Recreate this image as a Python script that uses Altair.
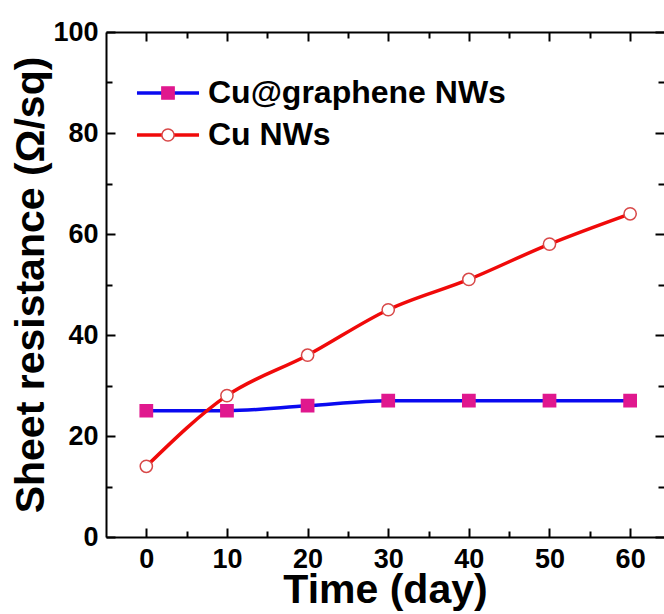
import altair as alt
import pandas as pd

# ---- data ----
days = [0, 10, 20, 30, 40, 50, 60]
cu_graphene = [25, 25, 26, 27, 27, 27, 27]
cu_nw = [14, 28, 36, 45, 51, 58, 64]
series_names = ["Cu@graphene NWs", "Cu NWs"]

x_major = [0, 10, 20, 30, 40, 50, 60]
x_minor = [5, 15, 25, 35, 45, 55]
y_major = [0, 20, 40, 60, 80, 100]
y_minor = [10, 30, 50, 70, 90]

df = pd.DataFrame({
    "day": days + days,
    "R": cu_graphene + cu_nw,
    "series": [series_names[0]] * len(days) + [series_names[1]] * len(days),
})

W, H = 558, 505
FONT = "Liberation Sans"
BLUE = "#0A0AF0"
RED = "#F00A0A"
MAGENTA = "#E0188E"
CIRC = "#D84848"

xscale = alt.Scale(domain=[-5, 64.2], nice=False, zero=False)
yscale = alt.Scale(domain=[0, 100], nice=False, zero=False)


def ax(**kw):
    base = dict(grid=False, labelFont=FONT, labelFontSize=27, labelFontWeight="bold",
                labelColor="black", tickColor="black", tickWidth=2,
                domainColor="black", domainWidth=2, titleFont=FONT,
                titleFontSize=41, titleFontWeight="bold", titleColor="black")
    base.update(kw)
    return alt.Axis(**base)


def tick_axis(orient, values, size, offset, domain=False):
    return ax(orient=orient, values=values, tickSize=size, offset=offset,
              labels=False, domain=domain, title=None)


base = alt.Chart(df)

LEG_FS = 32
line_legend = alt.Legend(orient="none", legendX=46, legendY=45, title=None,
                         symbolType="M-5,0H5", symbolSize=154, symbolStrokeWidth=3.5,
                         labelFont=FONT, labelFontSize=LEG_FS, labelFontWeight="bold",
                         labelColor="black", labelOffset=24, labelLimit=0,
                         rowPadding=10, padding=0)
pt_legend = alt.Legend(orient="none", legendX=46, legendY=45, title=None,
                       symbolSize=150, symbolStrokeWidth=1.5,
                       labelFont=FONT, labelFontSize=LEG_FS, labelFontWeight="bold",
                       labelOpacity=0, labelOffset=9, labelLimit=0,
                       rowPadding=10, padding=0)

color_enc = alt.Color("series:N", scale=alt.Scale(domain=series_names, range=[BLUE, RED]),
                      legend=line_legend)

# layer 1: graphene line, carries left labels + bottom labels
line_g = base.transform_filter(alt.datum.series == series_names[0]).mark_line(
    interpolate="monotone", strokeWidth=3.5
).encode(
    x=alt.X("day:Q", scale=xscale,
            axis=ax(orient="bottom", values=x_major, ticks=False, labelPadding=9,
                    title="Time (day)", titlePadding=-2)),
    y=alt.Y("R:Q", scale=yscale,
            axis=ax(orient="left", values=y_major, ticks=False, labelPadding=8,
                    title="Sheet resistance (Ω/sq)", titlePadding=0)),
    color=color_enc,
)

# layer 2: Cu NW line, carries inward major ticks bottom/left
line_nw = base.transform_filter(alt.datum.series == series_names[1]).mark_line(
    interpolate="monotone", strokeWidth=3.5
).encode(
    x=alt.X("day:Q", scale=xscale, axis=tick_axis("top", x_major, 9, -H)),
    y=alt.Y("R:Q", scale=yscale, axis=tick_axis("right", y_major, 9, -W)),
    color=color_enc,
)

# markers: descending sort puts "Cu@graphene NWs" first (same order as the lines)
points = base.mark_point(filled=True, size=150, strokeWidth=1.5, opacity=1).encode(
    x=alt.X("day:Q", scale=xscale, axis=tick_axis("top", x_minor, 6, -H)),
    y=alt.Y("R:Q", scale=yscale, axis=tick_axis("right", y_minor, 6, -W)),
    shape=alt.Shape("series:N", sort="descending",
                    scale=alt.Scale(range=["square", "circle"]), legend=pt_legend),
    fill=alt.Fill("series:N", sort="descending",
                  scale=alt.Scale(range=[MAGENTA, "white"]), legend=pt_legend),
    stroke=alt.Stroke("series:N", sort="descending",
                      scale=alt.Scale(range=[MAGENTA, CIRC]), legend=pt_legend),
)

# invisible helper layers that carry the top and right frame ticks
dummy1 = base.mark_point(opacity=0).encode(
    x=alt.X("day:Q", scale=xscale, axis=tick_axis("bottom", x_major, 9, -H, domain=True)),
    y=alt.Y("R:Q", scale=yscale, axis=tick_axis("left", y_major, 9, -W)),
)
dummy2 = base.mark_point(opacity=0).encode(
    x=alt.X("day:Q", scale=xscale, axis=tick_axis("bottom", x_minor, 6, -H)),
    y=alt.Y("R:Q", scale=yscale, axis=tick_axis("left", y_minor, 6, -W)),
)

chart = alt.layer(dummy1, dummy2, line_g, line_nw, points).resolve_axis(
    x="independent", y="independent"
).properties(
    width=W, height=H,
    autosize=alt.AutoSizeParams(type="none"),
    padding={"left": 106, "top": 32, "right": 0, "bottom": 77},
).configure_view(stroke=None).configure(background="white")

chart.save("out.html", embed_options={"renderer": "svg", "actions": False})
